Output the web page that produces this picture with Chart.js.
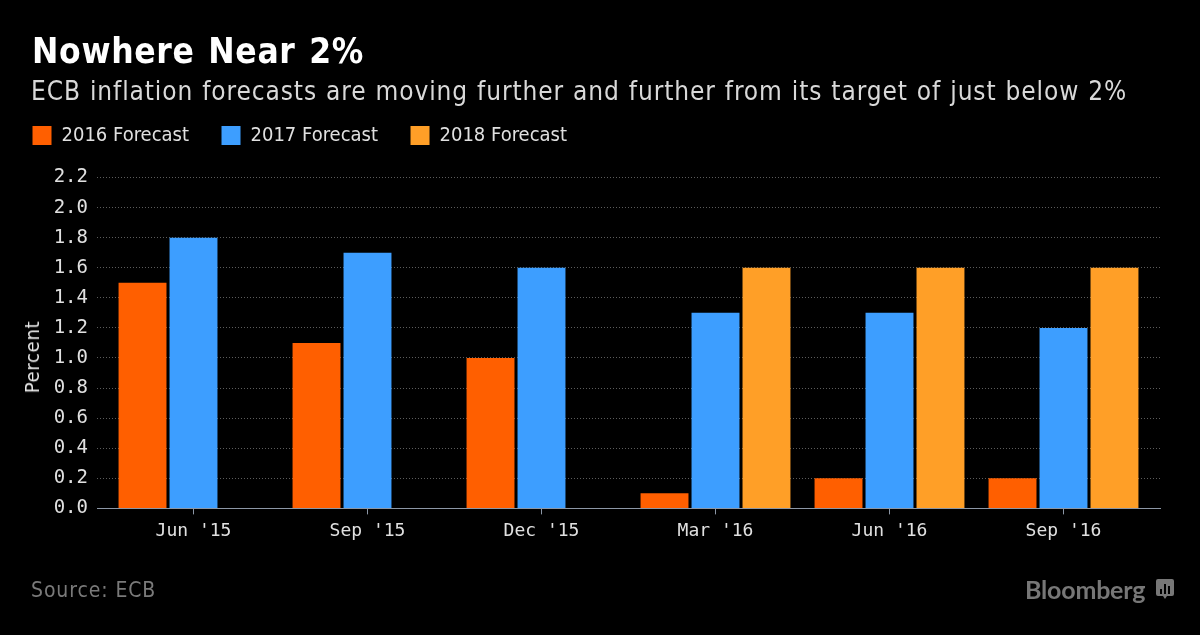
<!DOCTYPE html>
<html>
<head>
<meta charset="utf-8">
<title>Nowhere Near 2%</title>
<script src="https://cdn.jsdelivr.net/npm/chart.js@4"></script>
<style>
    html, body { margin: 0; padding: 0; background: #000; }
    #wrap { position: relative; width: 1200px; height: 635px; overflow: hidden; background: #000; }
    #chart { position: absolute; left: 0; top: 0; }
    .txt { position: absolute; white-space: nowrap; font-family: "DejaVu Sans", sans-serif; font-stretch: condensed; }
    #title { left: 32px; top: 31px; font-size: 35px; font-weight: bold; color: #fff; letter-spacing: 0.7px; word-spacing: 2px; }
    #subtitle { left: 31px; top: 76px; font-size: 26px; color: #d9d9d9; letter-spacing: 0.9px; word-spacing: 0.7px; }
    #source { left: 31px; top: 578px; font-size: 21px; color: #7a7a7a; letter-spacing: 0.9px; }
    #percent { left: 32px; top: 357px; font-size: 20px; color: #e8e8e8; letter-spacing: 0.7px; transform: translate(-50%, -50%) rotate(-90deg); }
    #brand { left: 1025px; top: 574px; font-size: 25px; font-weight: bold; color: #777; font-family: Lato, sans-serif; letter-spacing: -0.2px; }
    #logo { position: absolute; left: 1156px; top: 579px; }
</style>
</head>
<body>
<div id="wrap">
    <canvas id="chart" width="1200" height="635"></canvas>
    <div class="txt" id="title">Nowhere Near 2%</div>
    <div class="txt" id="subtitle">ECB inflation forecasts are moving further and further from its target of just below 2%</div>
    <div class="txt" id="percent">Percent</div>
    <div class="txt" id="source">Source: ECB</div>
    <div class="txt" id="brand">Bloomberg</div>
    <svg id="logo" width="18" height="22" viewBox="0 0 18 22">
        <path d="M2 0h14a2 2 0 0 1 2 2v13a2 2 0 0 1-2 2h-5l-2 3-2-3H2a2 2 0 0 1-2-2V2a2 2 0 0 1 2-2z" fill="#777"/>
        <path d="M4 10h2v5H4zM8 5h2v10H8zM12 7h2v8h-2z" fill="#000"/>
    </svg>
</div>
<script>
const categories = ["Jun '15", "Sep '15", "Dec '15", "Mar '16", "Jun '16", "Sep '16"];
const forecast2016 = [1.5, 1.1, 1.0, 0.1, 0.2, 0.2];
const forecast2017 = [1.8, 1.7, 1.6, 1.3, 1.3, 1.2];
const forecast2018 = [null, null, null, 1.6, 1.6, 1.6];
const yTicks = [0, 0.2, 0.4, 0.6, 0.8, 1.0, 1.2, 1.4, 1.6, 1.8, 2.0, 2.2];

const toPoints = (values) => values.map((y, i) => ({ x: i, y }));

const makeSeries = (label, values, color) => ({
    label,
    data: toPoints(values),
    backgroundColor: color,
    borderWidth: 0,
    categoryPercentage: 0.879,
    barPercentage: 0.94
});

// legend sits higher than the plot needs, so add room under it
const legendGap = {
    id: 'legendGap',
    beforeInit(chart) {
        const fit = chart.legend.fit;
        chart.legend.fit = function () {
            fit.call(this);
            this.height += 22;
        };
    }
};

new Chart(document.getElementById('chart'), {
    type: 'bar',
    plugins: [legendGap],
    data: {
        datasets: [
            makeSeries('2016 Forecast', forecast2016, '#ff5f00'),
            makeSeries('2017 Forecast', forecast2017, '#3d9eff'),
            makeSeries('2018 Forecast', forecast2018, '#ff9f27')
        ]
    },
    options: {
        responsive: false,
        animation: false,
        layout: { padding: { left: 0, right: 40, top: 93, bottom: 87 } },
        plugins: {
            tooltip: { enabled: false },
            legend: {
                position: 'top',
                align: 'start',
                onClick: null,
                labels: {
                    boxWidth: 19,
                    boxHeight: 19,
                    color: '#e0e0e0',
                    padding: 32.5,
                    font: { family: '"DejaVu Sans Condensed", "DejaVu Sans", sans-serif', size: 20 }
                }
            }
        },
        scales: {
            x: {
                type: 'linear',
                offset: false,
                min: -0.5546,
                max: 5.5546,
                afterBuildTicks: (axis) => { axis.ticks = categories.map((_, i) => ({ value: i })); },
                border: { display: true, color: '#8c97a6', width: 1 },
                grid: { offset: false, drawOnChartArea: false, drawTicks: true, tickLength: 6, color: '#8c97a6' },
                ticks: {
                    color: '#e0e0e0',
                    maxRotation: 0,
                    autoSkip: false,
                    padding: 6,
                    font: { family: '"DejaVu Sans Mono", monospace', size: 18 },
                    callback: (value) => categories[value]
                }
            },
            y: {
                min: 0,
                max: 2.2,
                afterBuildTicks: (axis) => { axis.ticks = yTicks.map((value) => ({ value })); },
                afterFit: (axis) => { axis.width = 97; },
                border: { display: false, dash: [1, 2] },
                grid: {
                    drawTicks: false,
                    color: '#5c5c5c',
                    lineWidth: 1
                },
                ticks: {
                    color: '#e0e0e0',
                    padding: 9,
                    font: { family: '"DejaVu Sans Mono", monospace', size: 19 },
                    callback: (value) => value.toFixed(1)
                }
            }
        }
    }
});
</script>
</body>
</html>
